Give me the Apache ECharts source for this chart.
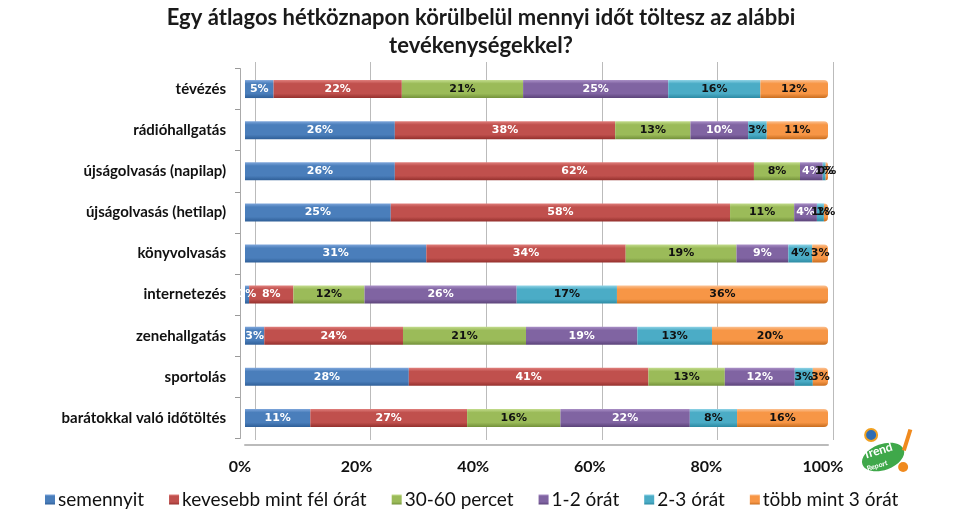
<!DOCTYPE html>
<html><head><meta charset="utf-8">
<script src="https://cdn.jsdelivr.net/npm/echarts@6/dist/echarts.min.js"></script>
<style>html,body{margin:0;padding:0;background:#fff}#c{width:962px;height:528px}</style>
</head><body><div id="c"></div>
<script>
const categories = ['tévézés','rádióhallgatás','újságolvasás (napilap)','újságolvasás (hetilap)','könyvolvasás','internetezés','zenehallgatás','sportolás','barátokkal való időtöltés'];
const seriesNames = ['semennyit','kevesebb mint fél órát','30-60 percet','1-2 órát','2-3 órát','több mint 3 órát'];
const semennyit   = [4.9, 25.7, 25.7, 25.0, 31.1, 0.7, 3.3, 28.1, 11.2];
const kevesebb    = [22.0, 37.8, 61.6, 58.2, 34.2, 7.6, 23.8, 41.1, 26.9];
const perc30_60   = [20.8, 12.9, 7.9, 11.0, 19.0, 12.2, 21.1, 13.1, 16.0];
const ora1_2      = [24.9, 9.9, 3.9, 3.9, 8.9, 26.1, 19.1, 12.0, 22.2];
const ora2_3      = [15.8, 3.2, 0.5, 1.2, 4.1, 17.2, 12.8, 3.1, 8.1];
const tobbMint3   = [11.6, 10.5, 0.4, 0.7, 2.7, 36.2, 19.9, 2.6, 15.6];
const tickLabels  = ['0%','20%','40%','60%','80%','100%'];

const values = [semennyit, kevesebb, perc30_60, ora1_2, ora2_3, tobbMint3];
const colors = [
  ['#7ea6db','#4a7ebb','#2f5f98'],
  ['#e07f7c','#c0504d','#94302d'],
  ['#c3dc8d','#9bbb59','#73913a'],
  ['#a98fc6','#8064a2','#5b4379'],
  ['#8fd3e6','#4bacc6','#2c8aa3'],
  ['#fbc192','#f79646','#c86d1f']
];
const labelColors = ['#fff','#fff','#111','#fff','#111','#111'];

const chart = echarts.init(document.getElementById('c'), null, {renderer:'canvas'});
const grad = c => new echarts.graphic.LinearGradient(0,0,0,1,[
  {offset:0,color:c[0]},{offset:0.2,color:c[1]},{offset:0.75,color:c[1]},{offset:1,color:c[2]}]);

const series = seriesNames.map((n,i)=>({
  name:n, type:'bar', stack:'all', barWidth:18, xAxisIndex:0, yAxisIndex:0,
  data: values[i],
  itemStyle:{color:grad(colors[i]), borderRadius: i===5?[0,4,4,0]:0},
  label:{show:true, position:'inside', color:labelColors[i], fontFamily:'DejaVu Sans', fontWeight:'bold', fontSize:11,
    formatter:p=>Math.round(p.value)+'%'}
}));

chart.setOption({
  animation:false,
  color: colors.map(c=>c[1]),
  title:{text:'Egy átlagos hétköznapon körülbelül mennyi időt töltesz az alábbi\ntevékenységekkel?',
    left:476, textAlign:'center', top:-1,
    textStyle:{fontFamily:'Lato', fontWeight:'bold', fontSize:22, lineHeight:28, color:'#1a1a1a'}},
  legend:{bottom:14, left:40, icon:'rect', itemWidth:10, itemHeight:10, itemGap:25,
    textStyle:{fontFamily:'Lato', fontSize:19, color:'#111', padding:[0,0,0,-2]},
    data: seriesNames.map((n,i)=>({name:n, itemStyle:{color:grad(colors[i])}}))},
  grid:[
    {left:245, right:134, top:68.5, bottom:89.5},
    {left:255, right:129, top:62, bottom:88}
  ],
  xAxis:[
    {type:'value', gridIndex:0, min:0, max:100, interval:20, offset:6,
     axisLabel:{formatter:v=>tickLabels[v/20], fontFamily:'Lato', fontWeight:'bold', fontSize:16, color:'#111', margin:14, padding:[0,10,0,0]},
     axisLine:{show:true, lineStyle:{color:'#bbb', width:2}}, axisTick:{show:false}, splitLine:{show:false}},
    {type:'value', gridIndex:1, min:0, max:100, interval:20,
     axisLabel:{show:false}, axisLine:{show:false}, axisTick:{show:false},
     splitLine:{show:true, lineStyle:{color:'#bbbbbb', width:1}}}
  ],
  yAxis:[
    {type:'category', gridIndex:0, data:categories, inverse:true, offset:5,
     axisLabel:{fontFamily:'Lato', fontWeight:'bold', fontSize:15, color:'#111', margin:14, padding:[8,0,0,0]},
     axisLine:{show:true, onZero:false, lineStyle:{color:'#aaa'}},
     axisTick:{show:true, length:5, lineStyle:{color:'#999'}}},
    {type:'category', gridIndex:1, data:categories, inverse:true, show:false}
  ],
  graphic:[
    {type:'group', left:858, top:428, children:[
      {type:'ellipse', shape:{cx:22, cy:30, rx:22, ry:13}, originX:22, originY:30, rotation:0.35, style:{fill:'#3fa84a'}},
      {type:'circle', shape:{cx:10, cy:8, r:6}, style:{fill:'#2f6db3', stroke:'#f0a020', lineWidth:2}},
      {type:'rect', shape:{x:44, y:2, width:4, height:22}, originX:46, originY:13, rotation:-0.3, style:{fill:'#f08a1e'}},
      {type:'circle', shape:{cx:42, cy:40, r:5}, style:{fill:'#f08a1e'}},
      {type:'text', x:6, y:20, originX:6, originY:20, rotation:0.3, style:{text:'Trend', fill:'#fff', font:'bold 12px Lato'}},
      {type:'text', x:14, y:33, originX:14, originY:33, rotation:0.3, style:{text:'Report', fill:'#fff', font:'bold 7px Lato'}}
    ]}
  ],
  series: series
});
</script></body></html>
